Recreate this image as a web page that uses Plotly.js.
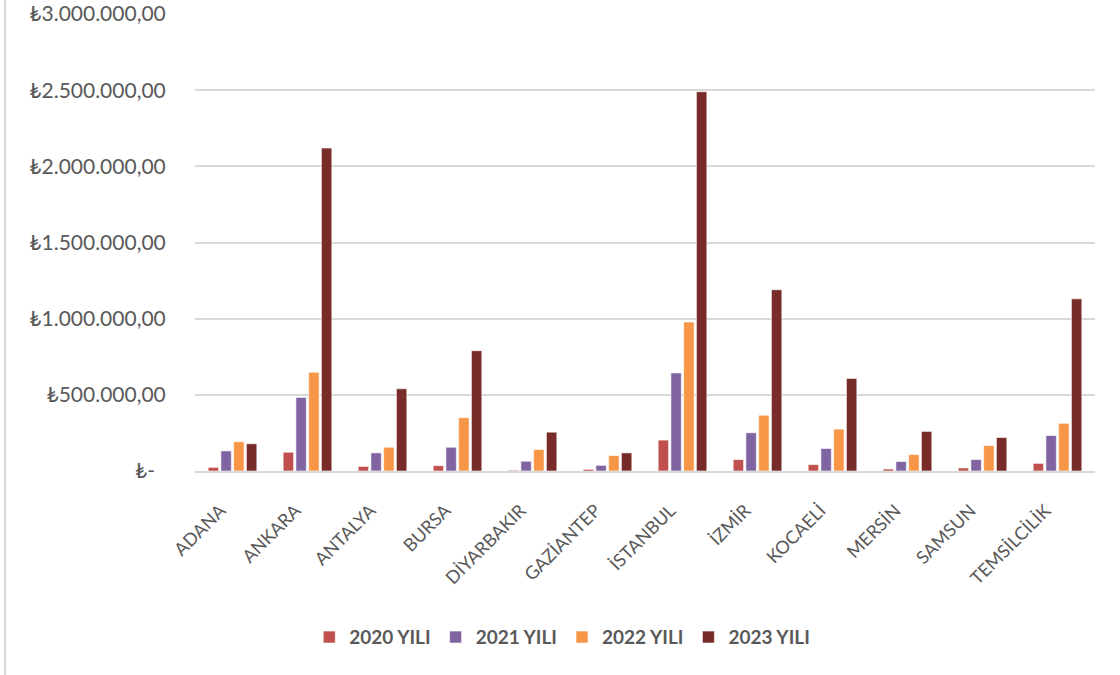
<!DOCTYPE html>
<html><head><meta charset="utf-8">
<script src="https://cdn.plot.ly/plotly-3.0.1.min.js"></script>
<style>html,body{margin:0;padding:0;background:#fff;}#chart{width:1120px;height:675px;}</style>
</head><body><div id="chart"></div>
<script>
const categories = ["ADANA","ANKARA","ANTALYA","BURSA","DİYARBAKIR","GAZİANTEP","İSTANBUL","İZMİR","KOCAELİ","MERSİN","SAMSUN","TEMSİLCİLİK"];
const seriesNames = ["2020 YILI","2021 YILI","2022 YILI","2023 YILI"];
const y2020 = [24000,123000,30000,35000,5000,11000,203000,75000,42000,13000,20000,50000];
const y2021 = [132000,483000,119000,156000,64000,37000,644000,251000,148000,62000,75000,233000];
const y2022 = [192000,648000,156000,350000,141000,101000,978000,366000,275000,108000,167000,313000];
const y2023 = [179000,2120000,540000,790000,255000,119000,2490000,1190000,608000,260000,220000,1130000];
const tickVals = [0,500000,1000000,1500000,2000000,2500000,3000000];
const tickText = ["₺-\u00a0\u00a0","₺500.000,00","₺1.000.000,00","₺1.500.000,00","₺2.000.000,00","₺2.500.000,00","₺3.000.000,00"];
const colors = ["#C0504D","#8064A2","#F79646","#772C2A"];
const allSeries = [y2020,y2021,y2022,y2023];

const traces = allSeries.map((vals,i)=>({
  type:"bar", name:seriesNames[i], x:categories, y:vals,
  marker:{color:colors[i], line:{color:"rgba(255,255,255,0.6)", width:1}},
  hoverinfo:"x+y"
}));

const layout = {
  width:1120, height:675,
  margin:{l:195, r:25, t:14, b:204},
  paper_bgcolor:"#fff", plot_bgcolor:"#fff",
  font:{family:"Lato, 'DejaVu Sans', sans-serif", color:"#595959"},
  barmode:"group", bargap:0.32, bargroupgap:0.18,
  xaxis:{
    tickangle:-45, tickfont:{size:18, color:"#595959", family:"Lato, 'DejaVu Sans', sans-serif"},
    showgrid:false, showline:true, linecolor:"#d9d9d9", linewidth:2,
    ticks:"outside", ticklen:20, tickcolor:"rgba(0,0,0,0)", ticklabelshift:-12, automargin:false
  },
  yaxis:{
    range:[0,3000000], tickvals:tickVals, ticktext:tickText,
    tickfont:{size:21, color:"#595959", family:"Lato, 'DejaVu Sans', sans-serif"},
    showgrid:true, gridcolor:"#d9d9d9", gridwidth:2, zeroline:false,
    ticks:"outside", ticklen:24, tickcolor:"rgba(0,0,0,0)", showline:false,
    automargin:false
  },
  showlegend:true,
  legend:{orientation:"h", xref:"container", yref:"container", x:0.502, xanchor:"center", y:0.056, yanchor:"middle",
    font:{size:19, color:"#595959", family:"Lato, sans-serif", weight:"bold"}, itemwidth:30, traceorder:"normal"},
  shapes:[{type:"line", xref:"paper", yref:"paper", x0:-0.211, x1:-0.211, y0:1.04, y1:-0.45, line:{color:"#d9d9d9", width:2}}]
};
Plotly.newPlot("chart", traces, layout, {displayModeBar:false, staticPlot:true});
</script>
</body></html>
